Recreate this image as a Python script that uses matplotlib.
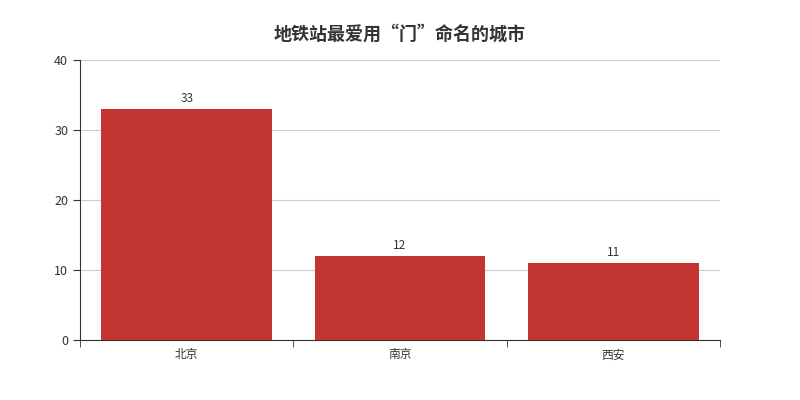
import matplotlib
matplotlib.use('Agg')
import matplotlib.pyplot as plt
import numpy as np

plt.rcParams['font.family'] = ['Noto Sans CJK SC', 'DejaVu Sans']

cities = ['北京', '南京', '西安']
counts = [33, 12, 11]
bar_color = '#c23531'

fig = plt.figure(figsize=(8, 4), dpi=100)
ax = fig.add_axes([0.1, 0.15, 0.8, 0.7])

x = np.arange(len(cities))
bars = ax.bar(x, counts, width=0.8, color=bar_color, zorder=3)
for xi, v in zip(x, counts):
    ax.text(xi, v + 0.6, str(v), ha='center', va='bottom', fontsize=8.5, color='#333333')

ax.set_xlim(-0.5, len(cities) - 0.5)
ax.set_ylim(0, 40)
ax.set_yticks([0, 10, 20, 30, 40])
ax.grid(axis='y', color='#cccccc', linewidth=0.8, zorder=0)

# category labels centered, ticks on the band edges
ax.set_xticks(x)
ax.set_xticklabels(cities, fontsize=8.5, color='#333333')
ax.tick_params(axis='x', length=0, pad=6)
ax.set_xticks(np.arange(len(cities) + 1) - 0.5, minor=True)
ax.tick_params(axis='x', which='minor', length=5, color='#333333')
ax.tick_params(axis='y', length=5, color='#333333', labelsize=9, labelcolor='#333333')

for s in ['top', 'right']:
    ax.spines[s].set_visible(False)
ax.spines['left'].set_color('#333333')
ax.spines['bottom'].set_color('#333333')

fig.text(0.5, 0.915, '地铁站最爱用“门”命名的城市', ha='center', va='center',
         fontsize=13, fontweight='bold', color='#333333')

fig.savefig('out.png', dpi=100)
